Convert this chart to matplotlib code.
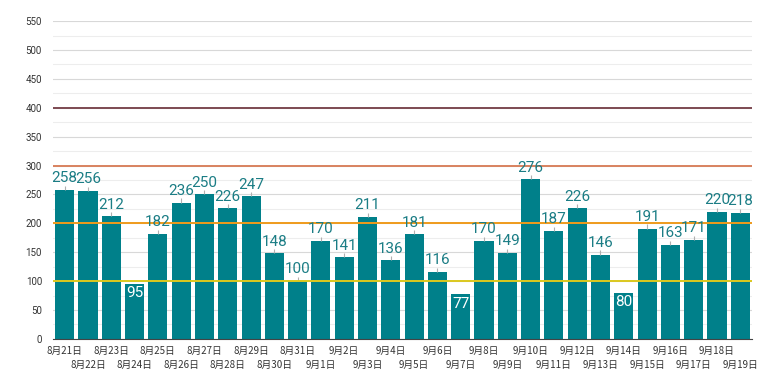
import matplotlib
matplotlib.use('Agg')
import matplotlib.pyplot as plt
from matplotlib.ticker import MultipleLocator

# daily counts, Aug 21 -> Sep 19
dates = ['8月21日', '8月22日', '8月23日', '8月24日', '8月25日', '8月26日', '8月27日',
         '8月28日', '8月29日', '8月30日', '8月31日', '9月1日', '9月2日', '9月3日',
         '9月4日', '9月5日', '9月6日', '9月7日', '9月8日', '9月9日', '9月10日',
         '9月11日', '9月12日', '9月13日', '9月14日', '9月15日', '9月16日', '9月17日',
         '9月18日', '9月19日']
counts = [258, 256, 212, 95, 182, 236, 250, 226, 247, 148, 100, 170, 141, 211, 136,
          181, 116, 77, 170, 149, 276, 187, 226, 146, 80, 191, 163, 171, 220, 218]

# reference levels
levels = [100, 200, 300, 400]
level_colors = ['#dcc81e', '#ef9b1c', '#d9825f', '#7d4a52']

bar_color = '#00808a'
label_color = '#1b7d85'

fig = plt.figure(figsize=(7.8, 3.9), dpi=100)
ax = fig.add_axes([0.068, 0.131, 0.896, 0.815])

x = list(range(len(counts)))
ax.bar(x, counts, width=0.82, color=bar_color, zorder=2)

for lv, c in zip(levels, level_colors):
    ax.axhline(lv, color=c, linewidth=1.4, zorder=3)

# value labels
for i, v in enumerate(counts):
    if v < 100:
        ax.text(i, v - 4, str(v), ha='center', va='top', color='white',
                fontsize=11, family='Roboto', zorder=4)
    else:
        ax.vlines(i, v, v + 7, color='#b0b0b0', linewidth=0.8, zorder=2)
        ax.text(i, v + 8, str(v), ha='center', va='bottom', color=label_color,
                fontsize=11, family='Roboto', zorder=4)

ax.set_xlim(-0.5, len(counts) - 0.5)
ax.set_ylim(0, 550)
ax.yaxis.set_major_locator(MultipleLocator(50))
ax.yaxis.set_minor_locator(MultipleLocator(25))
ax.grid(axis='y', which='major', color='#d8d8d8', linewidth=0.8, zorder=0)
ax.grid(axis='y', which='minor', color='#ededed', linewidth=0.8, zorder=0)
ax.set_axisbelow(True)

for s in ['top', 'right', 'left']:
    ax.spines[s].set_visible(False)
ax.spines['bottom'].set_color('#444444')
ax.spines['bottom'].set_linewidth(0.8)

ax.tick_params(axis='y', which='both', length=0, labelsize=7, labelcolor='#333333', pad=8)
for t in ax.get_yticklabels():
    t.set_family(['Roboto', 'DejaVu Sans'])

# staggered date labels
ax.set_xticks(x)
ax.set_xticklabels([])
ax.tick_params(axis='x', length=0)
for i, d in enumerate(dates):
    off = -8.5 if i % 2 == 0 else -19
    ax.annotate(d, xy=(i, 0), xycoords=('data', 'axes fraction'),
                xytext=(0, off), textcoords='offset points',
                ha='center', va='center', fontsize=7, color='#333333',
                family=['Noto Sans CJK JP', 'DejaVu Sans'])

fig.savefig('out.png', dpi=100)
